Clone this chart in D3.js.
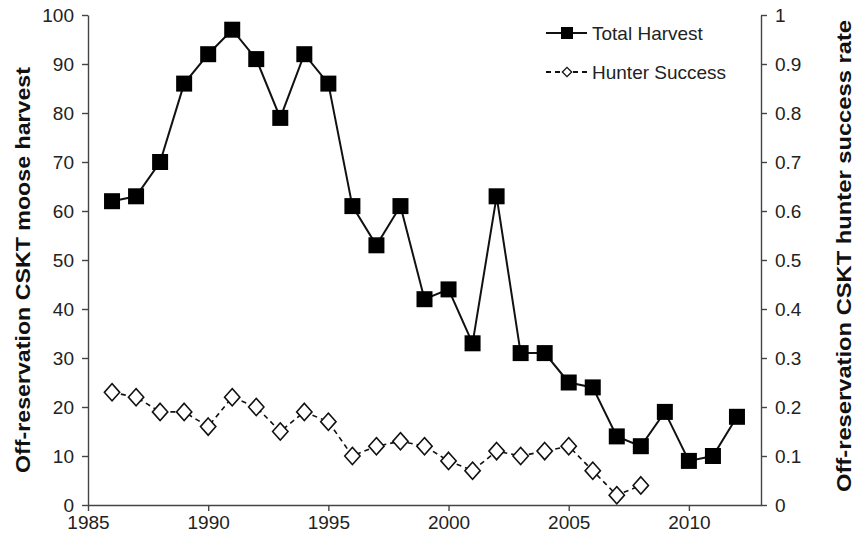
<!DOCTYPE html>
<html><head><meta charset="utf-8">
<script src="https://cdn.jsdelivr.net/npm/d3@7"></script>
<style>body{margin:0;background:#fff;} svg{display:block;}</style>
</head><body>
<svg id="c" width="856" height="539"></svg>
<script>
const years = [1986,1987,1988,1989,1990,1991,1992,1993,1994,1995,1996,1997,1998,1999,2000,2001,2002,2003,2004,2005,2006,2007,2008,2009,2010,2011,2012];
const harvest = [62,63,70,86,92,97,91,79,92,86,61,53,61,42,44,33,63,31,31,25,24,14,12,19,9,10,18];
const successYears = [1986,1987,1988,1989,1990,1991,1992,1993,1994,1995,1996,1997,1998,1999,2000,2001,2002,2003,2004,2005,2006,2007,2008];
const success = [0.23,0.22,0.19,0.19,0.16,0.22,0.20,0.15,0.19,0.17,0.10,0.12,0.13,0.12,0.09,0.07,0.11,0.10,0.11,0.12,0.07,0.02,0.04];
const xTicks = [1985,1990,1995,2000,2005,2010];
const yLeftTicks = [0,10,20,30,40,50,60,70,80,90,100];
const yRightTicks = [0,0.1,0.2,0.3,0.4,0.5,0.6,0.7,0.8,0.9,1];

const svg = d3.select("#c");
const L = 88, R = 761, T = 15, B = 505;
const x = d3.scaleLinear().domain([1985, 2013]).range([L, R]);
const yL = d3.scaleLinear().domain([0, 100]).range([B, T]);
const yR = d3.scaleLinear().domain([0, 1]).range([B, T]);
const font = "'Liberation Sans', Arial, sans-serif";

const gx = svg.append("g").attr("transform", `translate(0,${B})`)
  .call(d3.axisBottom(x).tickValues(xTicks).tickFormat(d3.format("d")).tickSize(6).tickSizeOuter(0));
const gl = svg.append("g").attr("transform", `translate(${L},0)`)
  .call(d3.axisLeft(yL).tickValues(yLeftTicks).tickSize(6).tickSizeOuter(0));
const gr = svg.append("g").attr("transform", `translate(${R},0)`)
  .call(d3.axisRight(yR).tickValues(yRightTicks).tickFormat(d => d3.format("")(d)).tickSize(6).tickSizeOuter(0));
[gx, gl, gr].forEach(g => {
  g.selectAll("path,line").attr("stroke", "#444").attr("stroke-width", 1.4);
  g.selectAll("text").attr("font-family", font).attr("font-size", 19).attr("fill", "#222");
});
gx.selectAll("text").attr("y", 10).attr("dy", "0.75em");
gl.selectAll("text").attr("x", -14);
gr.selectAll("text").attr("x", 14);

// Hunter success dashed line
const sData = successYears.map((y, i) => [y, success[i]]);
svg.append("path").datum(sData)
  .attr("d", d3.line().x(d => x(d[0])).y(d => yR(d[1])))
  .attr("fill", "none").attr("stroke", "#111").attr("stroke-width", 1.6).attr("stroke-dasharray", "5,4");
svg.append("g").selectAll("path").data(sData).join("path")
  .attr("d", d3.symbol(d3.symbolDiamond2, 150))
  .attr("transform", d => `translate(${x(d[0])},${yR(d[1])}) scale(1,1.12)`)
  .attr("fill", "#fff").attr("stroke", "#111").attr("stroke-width", 1.5);

// Total harvest solid line
const hData = years.map((y, i) => [y, harvest[i]]);
svg.append("path").datum(hData)
  .attr("d", d3.line().x(d => x(d[0])).y(d => yL(d[1])))
  .attr("fill", "none").attr("stroke", "#111").attr("stroke-width", 2);
svg.append("g").selectAll("rect").data(hData).join("rect")
  .attr("x", d => x(d[0]) - 8).attr("y", d => yL(d[1]) - 8)
  .attr("width", 16).attr("height", 16).attr("fill", "#000");

// Legend
const lg = svg.append("g");
lg.append("line").attr("x1", 546).attr("x2", 587).attr("y1", 33).attr("y2", 33).attr("stroke", "#111").attr("stroke-width", 2);
lg.append("rect").attr("x", 561).attr("y", 27).attr("width", 12).attr("height", 12).attr("fill", "#000");
lg.append("text").attr("x", 592).attr("y", 40).text("Total Harvest");
lg.append("line").attr("x1", 546).attr("x2", 587).attr("y1", 72).attr("y2", 72).attr("stroke", "#111").attr("stroke-width", 1.8).attr("stroke-dasharray", "5,4");
lg.append("path").attr("d", d3.symbol(d3.symbolDiamond2, 55)).attr("transform", "translate(567,72)")
  .attr("fill", "#fff").attr("stroke", "#111").attr("stroke-width", 1.3);
lg.append("text").attr("x", 592).attr("y", 79).text("Hunter Success");
lg.selectAll("text").attr("font-family", font).attr("font-size", 19).attr("fill", "#222");

// Axis titles
svg.append("text").attr("transform", `translate(30,270) rotate(-90)`)
  .attr("text-anchor", "middle").attr("font-family", font).attr("font-size", 21).attr("font-weight", "bold").attr("fill", "#111")
  .attr("textLength", 406).attr("lengthAdjust", "spacingAndGlyphs")
  .text("Off-reservation CSKT moose harvest");
svg.append("text").attr("transform", `translate(851,256) rotate(-90)`)
  .attr("text-anchor", "middle").attr("font-family", font).attr("font-size", 21).attr("font-weight", "bold").attr("fill", "#111")
  .attr("textLength", 472).attr("lengthAdjust", "spacingAndGlyphs")
  .text("Off-reservation CSKT hunter success rate");
</script>
</body></html>
